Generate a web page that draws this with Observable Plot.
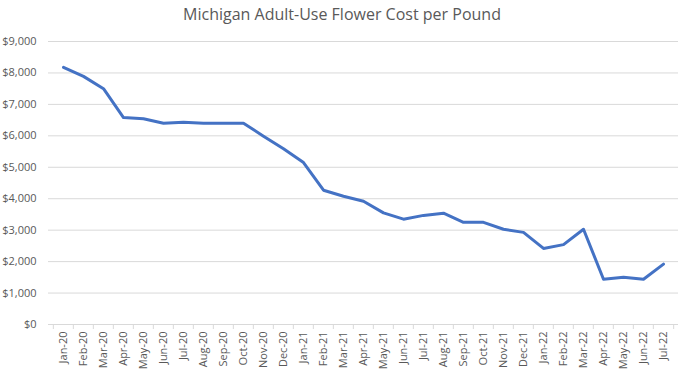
<!DOCTYPE html>
<html>
<head>
<meta charset="utf-8">
<script src="https://cdn.jsdelivr.net/npm/d3@7"></script>
<script src="https://cdn.jsdelivr.net/npm/@observablehq/plot@0.6"></script>
<style>
  html, body { margin: 0; padding: 0; background: #fff; }
  #title { height: 30px; line-height: 28px; text-align: center; font-family: "Open Sans", sans-serif; font-size: 16px; color: #595959; width: 684px; }
</style>
</head>
<body>
<div id="title">Michigan Adult-Use Flower Cost per Pound</div>
<div id="chart"></div>
<script>
const months = ["Jan-20","Feb-20","Mar-20","Apr-20","May-20","Jun-20","Jul-20","Aug-20","Sep-20","Oct-20","Nov-20","Dec-20",
  "Jan-21","Feb-21","Mar-21","Apr-21","May-21","Jun-21","Jul-21","Aug-21","Sep-21","Oct-21","Nov-21","Dec-21",
  "Jan-22","Feb-22","Mar-22","Apr-22","May-22","Jun-22","Jul-22"];
const costs = [8180, 7890, 7500, 6580, 6545, 6400, 6430, 6400, 6400, 6400, 5990, 5590,
  5150, 4270, 4080, 3920, 3550, 3350, 3470, 3540, 3250, 3250, 3030, 2930,
  2420, 2540, 3030, 1440, 1500, 1440, 1920];
const yTicks = [0, 1000, 2000, 3000, 4000, 5000, 6000, 7000, 8000, 9000];

const data = months.map((m, i) => ({month: m, cost: costs[i]}));
const W = 684, ML = 48, MR = 6;
const step = (W - ML - MR) / months.length;
const grey = "#d9d9d9";
const textColor = "#595959";

const chart = Plot.plot({
  width: W,
  height: 340,
  marginTop: 11,
  marginBottom: 46,
  marginLeft: ML,
  marginRight: MR,
  style: {fontFamily: "'Open Sans', sans-serif", fontSize: "11px", color: textColor, background: "#fff"},
  x: {type: "point", domain: months, padding: 0.5},
  y: {domain: [0, 9000]},
  marks: [
    Plot.gridY(yTicks, {stroke: grey, strokeOpacity: 1}),
    Plot.axisY(yTicks, {tickSize: 0, tickPadding: 12, tickFormat: d => "$" + d3.format(",")(d), label: null, fill: textColor}),
    Plot.axisX({tickSize: 5, text: null, dx: -step / 2, stroke: grey, label: null}),
    Plot.axisX([months[months.length - 1]], {tickSize: 5, text: null, dx: step / 2, stroke: grey, label: null}),
    Plot.axisX({tickSize: 0, tickRotate: -90, tickPadding: 7, label: null, fill: textColor}),
    Plot.line(data, {x: "month", y: "cost", stroke: "#4472C4", strokeWidth: 3, strokeLinejoin: "round", strokeLinecap: "round"})
  ]
});
document.getElementById("chart").appendChild(chart);
</script>
</body>
</html>
